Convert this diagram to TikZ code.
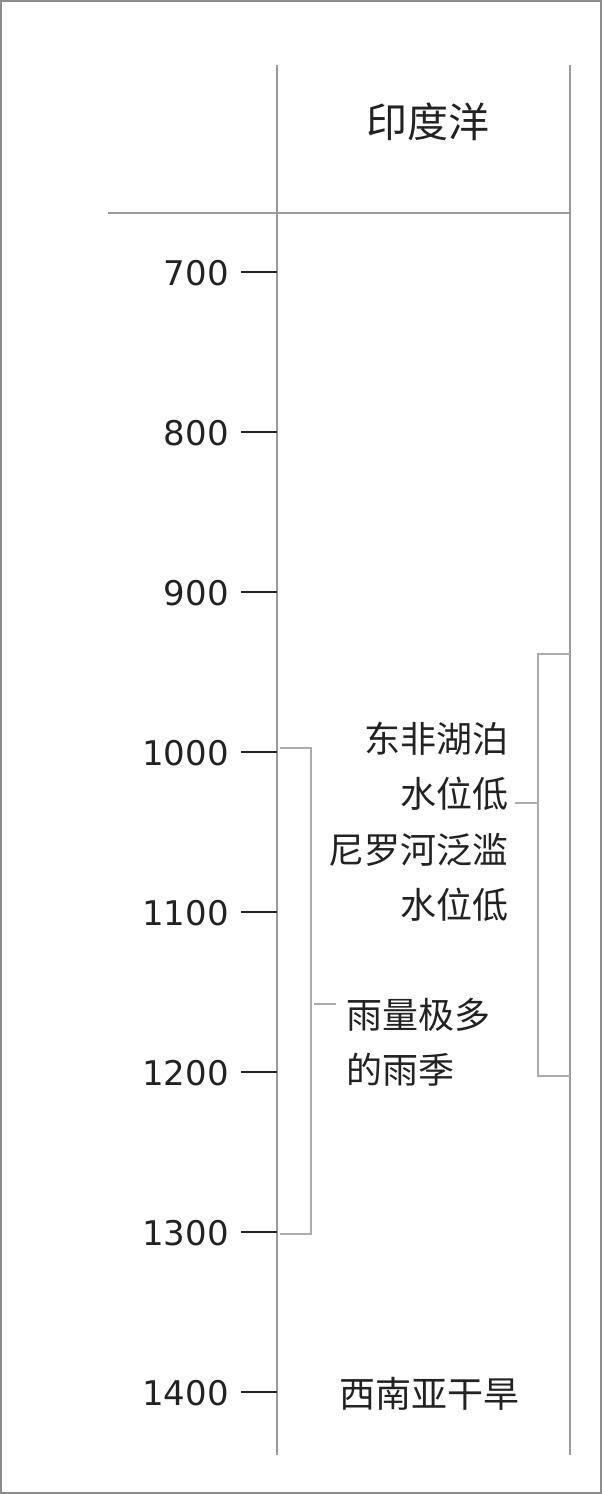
\documentclass[tikz,border=0pt]{standalone}
\usepackage{fontspec}
\setmainfont{Noto Sans CJK SC}
\newfontfamily\digitfont{DejaVu Sans}
\definecolor{ink}{HTML}{222222}
\definecolor{rule}{HTML}{9A9A9A}
\definecolor{brack}{HTML}{ABABAB}
\definecolor{frame}{HTML}{8C8C8C}
\begin{document}
\begin{tikzpicture}[x=1pt,y=-1pt,
  axisline/.style={draw=rule,line width=1.1pt},
  tickline/.style={draw=ink,line width=2pt},
  bracketline/.style={draw=brack,line width=1.1pt},
  yearlabel/.style={anchor=east,inner sep=0pt,text=ink,font=\digitfont\fontsize{34}{34}\selectfont},
  bodytext/.style={inner sep=0pt,text=ink,font=\fontsize{36}{55.5}\selectfont},
  headtext/.style={inner sep=0pt,text=ink,font=\fontsize{41}{41}\selectfont}]
\useasboundingbox (0,0) rectangle (602,1494);
\draw[draw=frame,line width=2pt] (1,1) rectangle (601,1493);
% axes
\coordinate (lt) at (277,65);
\coordinate (lb) at (277,1455);
\coordinate (rt) at (570,65);
\coordinate (rb) at (570,1455);
\coordinate (hl) at (108,213);
\coordinate (hr) at (570,213);
\draw[axisline] (lt) -- (lb);
\draw[axisline] (rt) -- (rb);
\draw[axisline] (hl) -- (hr);
\node[headtext] (head) at (428,122) {印度洋};
% ticks and years
\foreach \v [count=\i from 0] in {700,800,900,1000,1100,1200,1300,1400}{
  \coordinate (t\i) at (277,272+160*\i);
  \coordinate (ts\i) at (241,272+160*\i);
  \draw[tickline] (ts\i) -- (t\i);
  \node[yearlabel] (y\i) at (229,273+160*\i) {\v};
}
% right text and bracket
\node[bodytext,align=right,anchor=east] (nile) at (509,822) {东非湖泊\\水位低\\尼罗河泛滥\\水位低};
\coordinate (rb1) at (570,654);
\coordinate (rb2) at (538,654);
\coordinate (rb3) at (538,1076);
\coordinate (rb4) at (570,1076);
\coordinate (rbm) at (538,803);
\coordinate (rbt) at (515,803);
\draw[bracketline] (rb1) -- (rb2) -- (rb3) -- (rb4);
\draw[bracketline] (rbm) -- (rbt);
% left text and bracket
\node[bodytext,align=left,anchor=west] (rain) at (346,1042) {雨量极多\\的雨季};
\coordinate (lb1) at (280,748);
\coordinate (lb2) at (311,748);
\coordinate (lb3) at (311,1234);
\coordinate (lb4) at (280,1234);
\coordinate (lbm) at (314,1004);
\coordinate (lbt) at (336,1004);
\draw[bracketline] (lb1) -- (lb2) -- (lb3) -- (lb4);
\draw[bracketline] (lbm) -- (lbt);
% bottom text
\node[bodytext] (drought) at (429,1394) {西南亚干旱};
\end{tikzpicture}
\end{document}
